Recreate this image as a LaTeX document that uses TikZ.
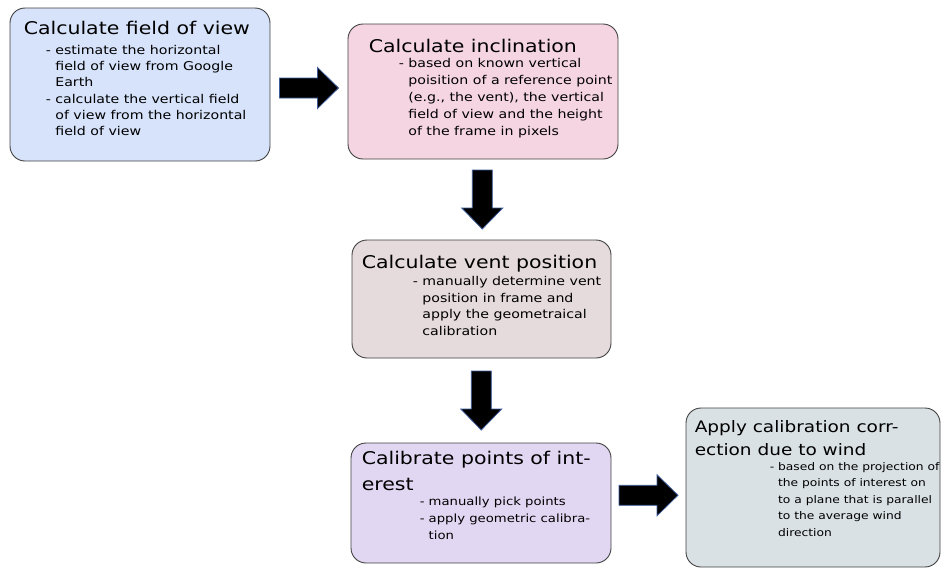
\documentclass[tikz,border=0pt]{standalone}
\usepackage{fontspec}
\setmainfont{DejaVu Sans}[FakeStretch=1.17]
\usetikzlibrary{calc}
\definecolor{fovblue}{HTML}{D6E3FB}
\definecolor{inclpink}{HTML}{F5D5E2}
\definecolor{ventgrey}{HTML}{E5DADC}
\definecolor{calilac}{HTML}{E2D7F2}
\definecolor{windgrey}{HTML}{DAE1E4}
\definecolor{rimblue}{HTML}{3B5B9A}

\begin{document}
\begin{tikzpicture}[
    x=1pt, y=-1pt,
    box/.style={draw=black!75, line width=0.9pt, rounded corners=15pt, inner sep=0pt},
    heading/.style={anchor=base west, inner sep=0pt, align=left,
      font=\fontsize{17.5}{28}\selectfont},
    steps/.style={anchor=base west, inner sep=0pt, align=left,
      font=\fontsize{12.1}{16.6}\selectfont},
    blockarrow/.pic={\filldraw[fill=black, draw=rimblue, line width=0.8pt]
      (-29.5,-10) -- (8.5,-10) -- (8.5,-20.5) -- (29.5,0) -- (8.5,20.5)
      -- (8.5,10) -- (-29.5,10) -- cycle;}
  ]
    \useasboundingbox (0,0) rectangle (943,568);

    % boxes
    \node[box, fill=fovblue, minimum width=260pt, minimum height=153pt] (fov) at (140,84.5) {};
    \node[box, fill=inclpink, minimum width=270pt, minimum height=135pt] (incl) at (483,91.5) {};
    \node[box, fill=ventgrey, minimum width=259pt, minimum height=118pt] (vent) at (481.5,299) {};
    \node[box, fill=calilac, minimum width=260pt, minimum height=120pt] (cal) at (481,503) {};
    \node[box, fill=windgrey, minimum width=254pt, minimum height=159pt] (wind) at (813,487.5) {};

    % texts (anchored at the baseline of their last line)
    \node[heading] (fovT) at ([shift={(14,27)}]fov.north west) {Calculate field of view};
    \node[steps, font=\fontsize{12.1}{16.2}\selectfont] (fovS) at ([shift={(36,128)}]fov.north west)
      {- estimate the horizontal\\\phantom{- }field of view from Google\\\phantom{- }Earth\\
       - calculate the vertical field\\\phantom{- }of view from the horizontal\\\phantom{- }field of view};

    \node[heading] (inclT) at ([shift={(21,29)}]incl.north west) {Calculate inclination};
    \node[steps, font=\fontsize{12.1}{17}\selectfont] (inclS) at ([shift={(51,112)}]incl.north west)
      {- based on known vertical\\\phantom{- }poisition of a reference point\\\phantom{- }(e.g., the vent), the vertical\\
       \phantom{- }field of view and the height\\\phantom{- }of the frame in pixels};

    \node[heading] (ventT) at ([shift={(10,29)}]vent.north west) {Calculate vent position};
    \node[steps] (ventS) at ([shift={(61,96)}]vent.north west)
      {- manually determine vent\\\phantom{- }position in frame and\\\phantom{- }apply the geometraical\\\phantom{- }calibration};

    \node[heading, font=\fontsize{17.5}{26}\selectfont] (calT) at ([shift={(11,48)}]cal.north west)
      {Calibrate points of int-\\erest};
    \node[steps, font=\fontsize{11.3}{16.8}\selectfont] (calS) at ([shift={(69,97)}]cal.north west)
      {- manually pick points\\- apply geometric calibra-\\\phantom{- }tion};

    \node[heading, font=\fontsize{15.8}{23}\selectfont] (windT) at ([shift={(9,48)}]wind.north west)
      {Apply calibration corr-\\ection due to wind};
    \node[steps, font=\fontsize{10.5}{16.6}\selectfont] (windS) at ([shift={(84,129)}]wind.north west)
      {- based on the projection of\\\phantom{- }the points of interest on\\\phantom{- }to a plane that is parallel\\
       \phantom{- }to the average wind\\\phantom{- }direction};

    % block arrows between the boxes
    \pic at ($(fov.east)!0.5!(incl.west)$) {blockarrow};
    \pic[rotate=-90] at ($(incl.south)!0.5!(vent.north)$) {blockarrow};
    \pic[rotate=-90] at ($(vent.south)!0.5!(cal.north)$) {blockarrow};
    \pic at ($(cal.east)!0.5!(wind.west)$) {blockarrow};
  \end{tikzpicture}
\end{document}
